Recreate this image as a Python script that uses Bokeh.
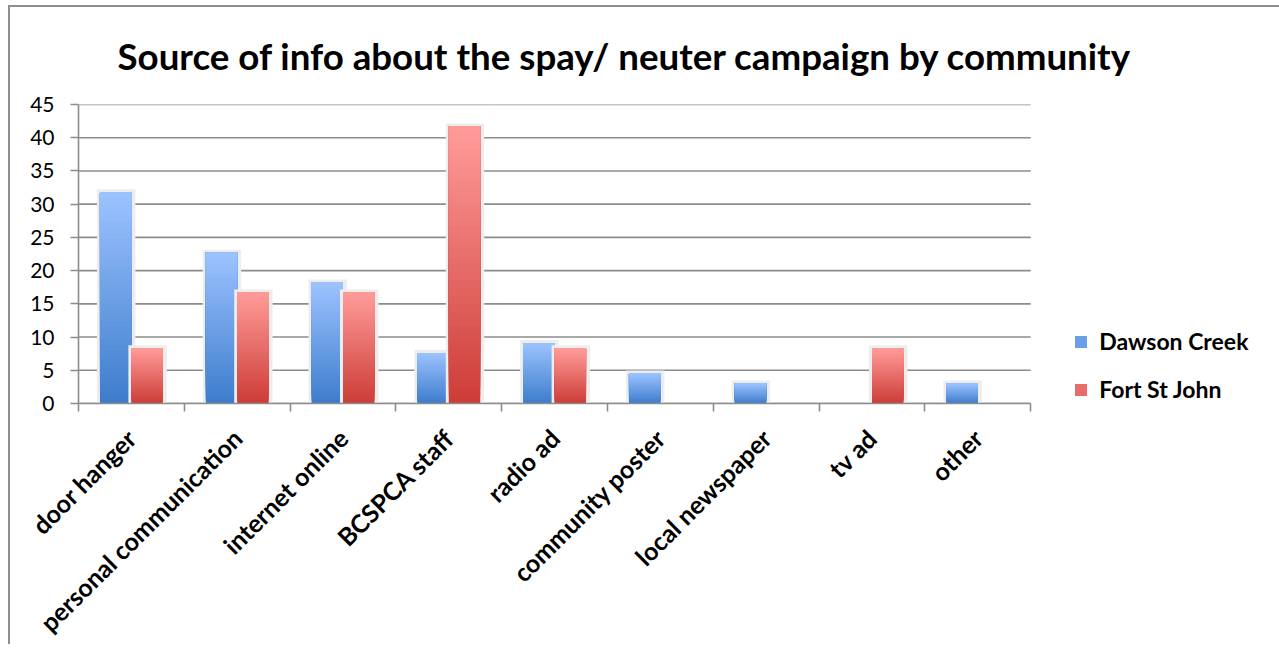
import math

from bokeh.embed import file_html
from bokeh.layouts import column
from bokeh.models import (ColumnDataSource, CustomJSTickFormatter, FixedTicker,
                          Legend, LegendItem, LinearAxis, Range1d)
from bokeh.plotting import figure
from bokeh.resources import INLINE

# Survey responses (% of respondents) per information source
categories = ["door hanger", "personal communication", "internet online",
              "BCSPCA staff", "radio ad", "community poster",
              "local newspaper", "tv ad", "other"]
dawson_creek = [31.8, 22.7, 18.2, 7.6, 9.1, 4.5, 3.0, 0.0, 3.0]
fort_st_john = [8.3, 16.7, 16.7, 41.7, 8.3, 0.0, 0.0, 8.3, 0.0]
series_names = ["Dawson Creek", "Fort St John"]
y_ticks = [0, 5, 10, 15, 20, 25, 30, 35, 40, 45]

TITLE = "Source of info about the spay/ neuter campaign by community"
FONT = "Lato"
GRID = "#8c8c8c"

# gradient end colours (bottom -> top) for each series
BLUE = ((0x3d, 0x7c, 0xcc), (0x9c, 0xc3, 0xff))
RED = ((0xcd, 0x3c, 0x37), (0xff, 0x9c, 0x9a))
MID = ["#6b9ee9", "#ea6c69"]

N = len(categories)
BAR_W = 0.297          # width of one bar in category units
SLICES = 36            # number of gradient steps per bar
UNIT_PX = 105.8        # pixels per category
W, H = 1279, 644
LEFT, TOP, BOTTOM = 68, 97, 248

# the frame runs to the right edge so the legend can sit beside the bars;
# the plotted categories occupy only the first N units of it
x_end = (W - LEFT) / UNIT_PX

p = figure(width=W, height=H, output_backend="svg", toolbar_location=None,
           x_range=Range1d(0, x_end), y_range=Range1d(0, 45),
           x_axis_type=None, y_axis_type=None,
           min_border_left=LEFT, min_border_right=0,
           min_border_top=TOP, min_border_bottom=BOTTOM,
           styles={"margin-left": "10px", "margin-top": "7px",
                   "box-shadow": "-2px -2px 0 0 #8e8e8e"})
p.outline_line_color = None
p.background_fill_color = "white"
p.border_fill_color = "white"
p.xgrid.grid_line_color = None
p.ygrid.grid_line_color = None

p.title.text = TITLE
p.title.align = "left"
p.title.offset = 39
p.title.vertical_align = "top"
p.title.text_font = FONT
p.title.text_font_style = "bold"
p.title.text_font_size = "36.7px"
p.title.text_color = "black"
p.title.standoff = 50

# horizontal gridlines across the category area only
p.segment(x0=[0] * len(y_ticks), x1=[N] * len(y_ticks), y0=y_ticks, y1=y_ticks,
          line_color=GRID, line_width=1.6)


def mix(c0, c1, t):
    return "#%02x%02x%02x" % tuple(int(round(a + (b - a) * t)) for a, b in zip(c0, c1))


def bar_columns(values, side, colours):
    """Stacked slices that overlap upward, giving a vertical gradient per bar."""
    glow = dict(left=[], right=[], top=[], bottom=[])
    sl = dict(left=[], right=[], top=[], bottom=[], color=[])
    px_x = 1.0 / UNIT_PX
    px_y = 45.0 / 298.0
    for i, v in enumerate(values):
        if v <= 0:
            continue
        centre = i + 0.5
        left = centre - BAR_W if side == 0 else centre
        right = left + BAR_W
        glow["left"].append(left - 3 * px_x)
        glow["right"].append(right + 4 * px_x)
        glow["top"].append(v + 3 * px_y)
        glow["bottom"].append(0)
        for k in range(SLICES):
            sl["left"].append(left)
            sl["right"].append(right)
            sl["bottom"].append(v * k / SLICES)
            sl["top"].append(v)
            sl["color"].append(mix(colours[0], colours[1], (k + 0.5) / SLICES))
    return glow, sl


for side, (vals, cols) in enumerate([(dawson_creek, BLUE), (fort_st_john, RED)]):
    glow, sl = bar_columns(vals, side, cols)
    p.quad(source=ColumnDataSource(glow), left="left", right="right", top="top",
           bottom="bottom", fill_color="#ededed", line_color=None)
    p.quad(source=ColumnDataSource(sl), left="left", right="right", top="top",
           bottom="bottom", fill_color="color", line_color=None)

# y axis
yax = LinearAxis(ticker=FixedTicker(ticks=y_ticks))
yax.axis_line_color = GRID
yax.axis_line_width = 1.6
yax.major_tick_line_color = GRID
yax.major_tick_line_width = 1.6
yax.major_tick_out = 8
yax.major_tick_in = 0
yax.minor_tick_line_color = None
yax.major_label_standoff = 16
yax.major_label_text_font = FONT
yax.major_label_text_font_size = "21px"
yax.major_label_text_color = "black"
p.add_layout(yax, "left")

# x axis line with tick marks between categories
xax = LinearAxis(ticker=FixedTicker(ticks=list(range(N + 1))),
                 formatter=CustomJSTickFormatter(code="return ''"),
                 bounds=(0, N))
xax.axis_line_color = GRID
xax.axis_line_width = 1.6
xax.major_tick_line_color = GRID
xax.major_tick_line_width = 1.6
xax.major_tick_out = 8
xax.major_tick_in = 0
xax.minor_tick_line_color = None
xax.major_label_text_font_size = "1px"
xax.major_label_standoff = 0
p.add_layout(xax, "below")

# category names centred under each group
centres = [i + 0.5 for i in range(N)]
lax = LinearAxis(ticker=FixedTicker(ticks=centres),
                 major_label_overrides={c: name for c, name in zip(centres, categories)})
lax.axis_line_color = None
lax.major_tick_line_color = None
lax.minor_tick_line_color = None
lax.major_label_orientation = math.pi / 4
lax.major_label_standoff = 16
lax.major_label_text_font = FONT
lax.major_label_text_font_style = "bold"
lax.major_label_text_font_size = "25px"
lax.major_label_text_color = "black"
p.add_layout(lax, "below")

# legend swatches (zero-area quads that only supply the legend glyphs)
swatches = [p.quad(left=[0], right=[0], top=[0], bottom=[0], fill_color=c, line_color=None)
            for c in MID]
legend = Legend(items=[LegendItem(label=n, renderers=[r]) for n, r in zip(series_names, swatches)],
                location=(N * UNIT_PX + 43, 0))
legend.glyph_width = 15
legend.glyph_height = 15
legend.label_height = 21
legend.label_standoff = 11
legend.spacing = 20
legend.padding = 0
legend.margin = 0
legend.border_line_color = None
legend.background_fill_alpha = 0
legend.label_text_font = FONT
legend.label_text_font_style = "bold"
legend.label_text_font_size = "23px"
legend.label_text_color = "black"
p.add_layout(legend, "center")

# page-sized box that crops the chart at the window edges
page = column(p, width=1279, height=644, sizing_mode="fixed",
              styles={"overflow": "hidden", "background-color": "white"})

open("out.html", "w").write(file_html(page, INLINE))
